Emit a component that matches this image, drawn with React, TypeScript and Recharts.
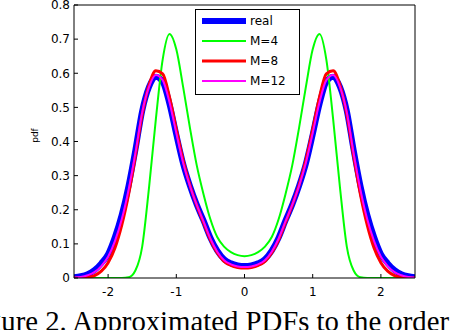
import { Legend, Line, LineChart, XAxis, YAxis } from "recharts";

const xs = [
  -2.5, -2.4, -2.3, -2.2, -2.1, -2.0, -1.9, -1.8, -1.7, -1.6, -1.5, -1.4, -1.3,
  -1.2, -1.1, -1.0, -0.9, -0.8, -0.7, -0.6, -0.5, -0.4, -0.3, -0.2, -0.1, 0,
  0.1, 0.2, 0.3, 0.4, 0.5, 0.6, 0.7, 0.8, 0.9, 1.0, 1.1, 1.2, 1.3, 1.4, 1.5,
  1.6, 1.7, 1.8, 1.9, 2.0, 2.1, 2.2, 2.3, 2.4, 2.5,
];

const realPdf = [
  0.002, 0.005, 0.011, 0.023, 0.043, 0.07, 0.12, 0.185, 0.27, 0.375, 0.49, 0.56,
  0.59, 0.575, 0.51, 0.42, 0.335, 0.27, 0.215, 0.168, 0.118, 0.08, 0.055, 0.043,
  0.037, 0.035, 0.037, 0.043, 0.055, 0.08, 0.118, 0.168, 0.215, 0.27, 0.335,
  0.42, 0.51, 0.575, 0.59, 0.56, 0.49, 0.375, 0.27, 0.185, 0.12, 0.07, 0.043,
  0.023, 0.011, 0.005, 0.002,
];

const m4Pdf = [
  0, 0, 0, 0, 0, 0, 0, 0, 0.002, 0.022, 0.092, 0.265, 0.465, 0.64, 0.715, 0.67,
  0.56, 0.44, 0.33, 0.245, 0.172, 0.12, 0.092, 0.076, 0.067, 0.064, 0.067,
  0.076, 0.092, 0.12, 0.172, 0.245, 0.33, 0.44, 0.56, 0.67, 0.715, 0.64, 0.465,
  0.265, 0.092, 0.022, 0.002, 0, 0, 0, 0, 0, 0, 0, 0,
];

const m8Pdf = [
  0, 0, 0.002, 0.007, 0.02, 0.045, 0.088, 0.155, 0.245, 0.358, 0.48, 0.565,
  0.607, 0.598, 0.53, 0.435, 0.345, 0.272, 0.213, 0.162, 0.112, 0.074, 0.049,
  0.037, 0.031, 0.029, 0.031, 0.037, 0.049, 0.074, 0.112, 0.162, 0.213, 0.272,
  0.345, 0.435, 0.53, 0.598, 0.607, 0.565, 0.48, 0.358, 0.245, 0.155, 0.088,
  0.045, 0.02, 0.007, 0.002, 0, 0,
];

const m12Pdf = [
  0.001, 0.003, 0.008, 0.017, 0.035, 0.062, 0.108, 0.172, 0.258, 0.365, 0.485,
  0.56, 0.595, 0.58, 0.515, 0.425, 0.338, 0.27, 0.214, 0.165, 0.115, 0.077,
  0.052, 0.04, 0.034, 0.032, 0.034, 0.04, 0.052, 0.077, 0.115, 0.165, 0.214,
  0.27, 0.338, 0.425, 0.515, 0.58, 0.595, 0.56, 0.485, 0.365, 0.258, 0.172,
  0.108, 0.062, 0.035, 0.017, 0.008, 0.003, 0.001,
];

const xTicks = [-2, -1, 0, 1, 2];
const yTicks = [0, 0.1, 0.2, 0.3, 0.4, 0.5, 0.6, 0.7, 0.8];

const series = [
  { key: "real", name: "real", color: "#0000ff", width: 6 },
  { key: "m4", name: "M=4", color: "#00ff00", width: 2 },
  { key: "m8", name: "M=8", color: "#ff0000", width: 3 },
  { key: "m12", name: "M=12", color: "#ff00ff", width: 2 },
];

const rows = xs.map((x, i) => ({
  x,
  real: realPdf[i],
  m4: m4Pdf[i],
  m8: m8Pdf[i],
  m12: m12Pdf[i],
}));

const font = "DejaVu Sans";
const tickStyle = { fontSize: 12, fill: "#000", fontFamily: font };
const black = { stroke: "#000" };

// legend keeps the series order (real first), colours come from the payload
function LegendBox({ payload }: any) {
  const items = payload ?? [];
  return (
    <svg width={105} height={86} style={{ display: "block" }}>
      <rect x={0.5} y={0.5} width={104} height={85} fill="#fff" stroke="#000" />
      {series.map((s, i) => {
        const p = items.find((d: any) => d.value === s.name);
        const cy = 12 + i * 20;
        return (
          <g key={s.key}>
            <line
              x1={7}
              x2={51}
              y1={cy}
              y2={cy}
              stroke={p ? p.color : s.color}
              strokeWidth={s.width}
            />
            <text
              x={55}
              y={cy}
              dominantBaseline="central"
              fontSize={12}
              fontFamily={font}
              fill="#000"
            >
              {s.name}
            </text>
          </g>
        );
      })}
    </svg>
  );
}

function PdfLabel({ viewBox }: any) {
  const cx = viewBox.x + viewBox.width / 2 - 2;
  const cy = viewBox.y + viewBox.height / 2 - 6;
  return (
    <text
      x={cx}
      y={cy}
      transform={`rotate(-90, ${cx}, ${cy})`}
      textAnchor="middle"
      dominantBaseline="central"
      fontSize={9}
      fontFamily={font}
      fill="#000"
    >
      pdf
    </text>
  );
}

export default function App() {
  return (
    <div
      style={{
        position: "absolute",
        left: 0,
        top: 0,
        width: 450,
        height: 330,
        overflow: "hidden",
        background: "#fff",
      }}
    >
      <LineChart
        width={450}
        height={330}
        data={rows}
        margin={{ top: 0, right: 0, bottom: 22, left: 0 }}
        style={{ fontFamily: font }}
      >
        <XAxis
          dataKey="x"
          type="number"
          domain={[-2.5, 2.5]}
          ticks={xTicks}
          interval={0}
          allowDataOverflow
          height={30}
          tickSize={-4}
          tickMargin={13}
          tick={tickStyle}
          axisLine={black}
          tickLine={black}
        />
        <XAxis
          xAxisId="top"
          orientation="top"
          dataKey="x"
          type="number"
          domain={[-2.5, 2.5]}
          ticks={xTicks}
          interval={0}
          allowDataOverflow
          height={5}
          tickSize={-4}
          tick={false}
          axisLine={black}
          tickLine={black}
        />
        <YAxis
          type="number"
          domain={[0, 0.8]}
          ticks={yTicks}
          interval={0}
          allowDataOverflow
          width={74}
          tickSize={-4}
          tickMargin={8}
          tick={tickStyle}
          axisLine={black}
          tickLine={black}
          label={<PdfLabel />}
        />
        <YAxis
          yAxisId="right"
          orientation="right"
          type="number"
          domain={[0, 0.8]}
          ticks={yTicks}
          interval={0}
          allowDataOverflow
          width={35}
          tickSize={-4}
          tick={false}
          axisLine={black}
          tickLine={black}
        />
        <Legend
          layout="horizontal"
          verticalAlign="middle"
          align="center"
          wrapperStyle={{ left: 195, top: 9, width: 105, height: 86 }}
          content={<LegendBox />}
        />
        {series.map((s) => (
          <Line
            key={s.key}
            dataKey={s.key}
            name={s.name}
            type="monotone"
            stroke={s.color}
            strokeWidth={s.width}
            dot={false}
            activeDot={false}
            isAnimationActive={false}
          />
        ))}
      </LineChart>
      <svg
        width={450}
        height={330}
        style={{ position: "absolute", left: 0, top: 0, pointerEvents: "none" }}
      >
        <text
          x={-37}
          y={331}
          fontFamily="Liberation Serif"
          fontSize={29}
          textLength={486}
          lengthAdjust="spacingAndGlyphs"
          fill="#000"
        >
          Figure 2. Approximated PDFs to the order
        </text>
      </svg>
    </div>
  );
}
